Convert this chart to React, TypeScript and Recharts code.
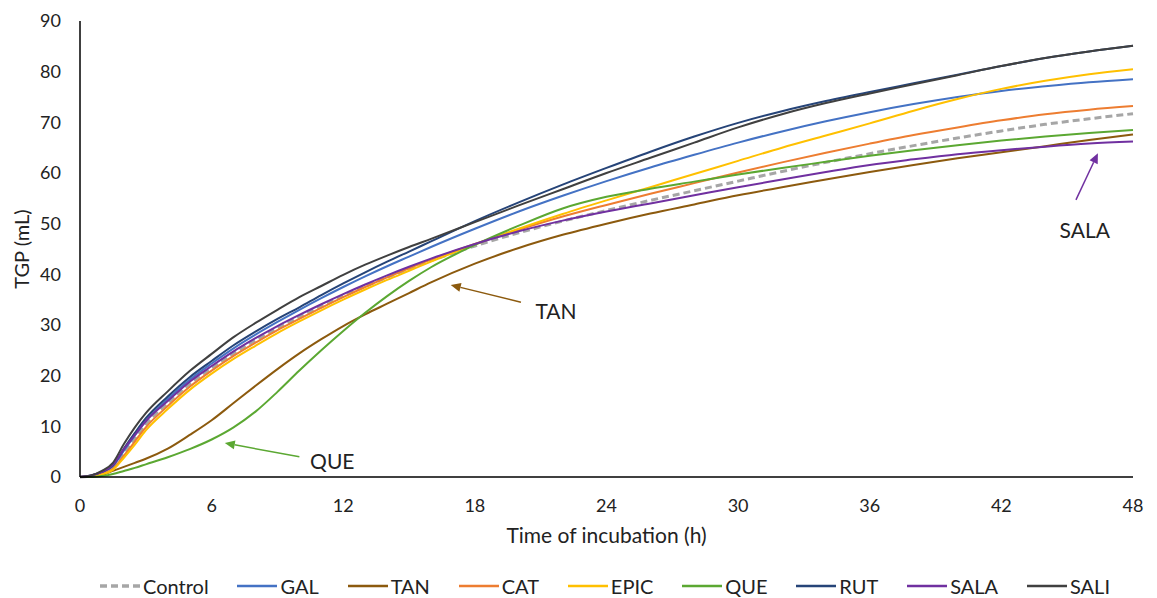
import React from 'react';
import {
  LineChart,
  Line,
  XAxis,
  YAxis,
  Legend,
  ReferenceLine,
  ReferenceDot,
} from 'recharts';

// incubation time (h)
const hours = [0, 0.5, 1, 1.5, 2, 2.5, 3, 4, 5, 6, 7, 8, 9, 10, 11, 12, 13, 14, 15, 16, 18, 20, 22, 24, 26, 28, 30, 32, 34, 36, 38, 40, 42, 44, 46, 48];

// total gas production (mL)
const control = [0, 0.2, 0.8, 2, 4.8, 7.6, 10.4, 14.6, 18.4, 21.5, 24.4, 27, 29.4, 31.6, 33.7, 35.7, 37.6, 39.4, 41.1, 42.7, 45.6, 48.2, 50.5, 52.6, 54.6, 56.5, 58.4, 60.3, 62.1, 63.8, 65.4, 66.9, 68.3, 69.6, 70.7, 71.7];
const gal = [0, 0.2, 0.9, 2.1, 5.2, 8.2, 11.1, 15.4, 19.2, 22.4, 25.4, 28.1, 30.6, 33, 35.3, 37.5, 39.6, 41.6, 43.5, 45.4, 49, 52.4, 55.5, 58.4, 61.1, 63.6, 66, 68.2, 70.2, 72, 73.6, 75, 76.2, 77.1, 77.9, 78.5];
const tan = [0, 0.1, 0.4, 1.2, 2, 2.8, 3.6, 5.6, 8.3, 11.2, 14.6, 18, 21.3, 24.4, 27.2, 29.8, 32.1, 34.2, 36.3, 38.4, 42.1, 45.2, 47.8, 50, 52, 53.8, 55.6, 57.2, 58.7, 60.2, 61.6, 62.9, 64.1, 65.3, 66.5, 67.6];
const cat = [0, 0.1, 0.6, 1.6, 4.2, 7, 9.8, 14, 17.8, 21, 23.9, 26.5, 29, 31.2, 33.4, 35.5, 37.5, 39.4, 41.2, 42.9, 46, 48.8, 51.4, 53.7, 55.9, 58, 60.1, 62.1, 64, 65.8, 67.5, 69, 70.4, 71.6, 72.5, 73.2];
const epic = [0, 0.1, 0.5, 1.4, 3.8, 6.4, 9.2, 13.4, 17.2, 20.4, 23.3, 25.9, 28.4, 30.7, 32.9, 35, 37, 38.9, 40.7, 42.5, 45.9, 49, 51.9, 54.6, 57.2, 59.8, 62.4, 65, 67.4, 69.8, 72.3, 74.6, 76.6, 78.2, 79.5, 80.5];
const que = [0, 0, 0.2, 0.6, 1.2, 1.8, 2.5, 3.9, 5.5, 7.4, 9.8, 12.9, 16.8, 21, 25, 28.8, 32.4, 35.7, 38.7, 41.4, 45.8, 49.6, 53, 55.3, 56.9, 58.3, 59.7, 61, 62.2, 63.4, 64.5, 65.5, 66.4, 67.2, 67.9, 68.5];
const rut = [0, 0.3, 1, 2.3, 5.6, 8.7, 11.6, 15.9, 19.7, 22.9, 26, 28.7, 31.2, 33.5, 35.9, 38.2, 40.4, 42.5, 44.5, 46.5, 50.5, 54.2, 57.7, 61, 64.2, 67.2, 69.9, 72.2, 74.2, 76, 77.7, 79.4, 81.1, 82.7, 84, 85.1];
const sala = [0, 0.3, 1, 2.4, 5.5, 8.3, 11, 15, 18.8, 21.9, 24.8, 27.4, 29.8, 32, 34.1, 36.1, 38, 39.8, 41.5, 43.1, 46, 48.5, 50.6, 52.4, 54, 55.6, 57.2, 58.7, 60.2, 61.6, 62.7, 63.7, 64.5, 65.2, 65.8, 66.2];
const sali = [0, 0.3, 1.2, 2.8, 6.5, 9.8, 12.6, 16.9, 20.9, 24.3, 27.6, 30.4, 33, 35.5, 37.7, 39.9, 41.9, 43.7, 45.4, 47, 50.3, 53.6, 56.8, 60, 63, 66, 69, 71.6, 73.8, 75.7, 77.5, 79.3, 81.1, 82.7, 84, 85.1];

const xTicks = [0, 6, 12, 18, 24, 30, 36, 42, 48];
const yTicks = [0, 10, 20, 30, 40, 50, 60, 70, 80, 90];

// callouts: label, label position, arrow start, arrow tip
const calloutNames = ['QUE', 'TAN', 'SALA'];
const calloutText = [[11.5, 3.0], [21.7, 32.6], [45.8, 48.7]];
const calloutFrom = [[10.0, 4.0], [20.1, 34.5], [45.4, 54.7]];
const calloutTo = [[6.6, 6.7], [16.9, 37.9], [46.4, 63.9]];

const series = [
  { key: 'Control', values: control, color: '#a6a6a6', width: 3, dash: '7 4' },
  { key: 'GAL', values: gal, color: '#4472c4', width: 2 },
  { key: 'TAN', values: tan, color: '#8c5a0e', width: 2 },
  { key: 'CAT', values: cat, color: '#ed7d31', width: 2 },
  { key: 'EPIC', values: epic, color: '#ffc000', width: 2 },
  { key: 'QUE', values: que, color: '#5ba832', width: 2 },
  { key: 'RUT', values: rut, color: '#264478', width: 2 },
  { key: 'SALA', values: sala, color: '#7030a0', width: 2 },
  { key: 'SALI', values: sali, color: '#404040', width: 2 },
];

const calloutColor: Record<string, string> = { QUE: '#5ba832', TAN: '#8c5a0e', SALA: '#7030a0' };

const rows = hours.map((h, i) => {
  const row: Record<string, number> = { h };
  series.forEach((s) => {
    row[s.key] = s.values[i];
  });
  return row;
});

const FONT = 'Lato, "Noto Sans", sans-serif';

const arrowShape = (color: string) => (props: any) => {
  const { x1, y1, x2, y2 } = props;
  const a = Math.atan2(y2 - y1, x2 - x1);
  const len = 10;
  const w = 4.5;
  const bx = x2 - len * Math.cos(a);
  const by = y2 - len * Math.sin(a);
  const pts = [
    `${x2},${y2}`,
    `${bx + w * Math.sin(a)},${by - w * Math.cos(a)}`,
    `${bx - w * Math.sin(a)},${by + w * Math.cos(a)}`,
  ].join(' ');
  return (
    <g>
      <line x1={x1} y1={y1} x2={bx} y2={by} stroke={color} strokeWidth={1.5} />
      <polygon points={pts} fill={color} />
    </g>
  );
};

function LegendContent() {
  return (
    <div
      style={{
        display: 'flex',
        justifyContent: 'space-between',
        height: 24,
        lineHeight: '24px',
        fontFamily: FONT,
        fontSize: 20,
        color: '#222',
      }}
    >
      {series.map((s) => (
        <div key={s.key} style={{ display: 'flex', alignItems: 'center' }}>
          <svg width={40} height={10} style={{ marginRight: 3 }}>
            <line
              x1={0}
              y1={5}
              x2={40}
              y2={5}
              stroke={s.color}
              strokeWidth={s.width + 0.5}
              strokeDasharray={s.dash ? '7 4' : undefined}
            />
          </svg>
          <span>{s.key}</span>
        </div>
      ))}
    </div>
  );
}

export default function App() {
  return (
    <div style={{ width: 1157, height: 598, background: '#fff' }}>
      <style>{`body{margin:0}`}</style>
      <LineChart
        width={1157}
        height={598}
        data={rows}
        margin={{ top: 21, right: 24, left: 0, bottom: 0 }}
      >
        <XAxis
          dataKey="h"
          type="number"
          domain={[0, 48]}
          ticks={xTicks}
          tickLine={false}
          tickSize={0}
          tickMargin={22}
          height={97}
          stroke="#000"
          strokeWidth={1.5}
          tick={{ fill: '#222', fontSize: 18, fontFamily: FONT }}
          label={{
            value: 'Time of incubation (h)',
            position: 'insideBottom',
            offset: 31,
            fill: '#222',
            fontSize: 21,
            fontFamily: FONT,
          }}
        />
        <YAxis
          type="number"
          domain={[0, 90]}
          ticks={yTicks}
          tickLine={false}
          tickSize={0}
          tickMargin={19}
          width={80}
          stroke="#000"
          strokeWidth={1.5}
          tick={{ fill: '#222', fontSize: 18, fontFamily: FONT }}
          label={{
            value: 'TGP (mL)',
            angle: -90,
            position: 'insideLeft',
            offset: 22,
            fill: '#222',
            fontSize: 20,
            fontFamily: FONT,
            style: { textAnchor: 'middle' },
          }}
        />
        <Legend
          verticalAlign="bottom"
          content={<LegendContent />}
          wrapperStyle={{ left: 100, width: 1010 }}
        />
        {series.map((s) => (
          <Line
            key={s.key}
            dataKey={s.key}
            type="monotone"
            stroke={s.color}
            strokeWidth={s.width}
            strokeDasharray={s.dash}
            dot={false}
            activeDot={false}
            isAnimationActive={false}
          />
        ))}
        {calloutNames.map((name, i) => (
          <ReferenceLine
            key={`a-${name}`}
            segment={[
              { x: calloutFrom[i][0], y: calloutFrom[i][1] },
              { x: calloutTo[i][0], y: calloutTo[i][1] },
            ]}
            stroke={calloutColor[name]}
            shape={arrowShape(calloutColor[name])}
          />
        ))}
        {calloutNames.map((name, i) => (
          <ReferenceDot
            key={`t-${name}`}
            x={calloutText[i][0]}
            y={calloutText[i][1]}
            r={0}
            fill="none"
            stroke="none"
            label={{ value: name, position: 'center', fill: '#222', fontSize: 21, fontFamily: FONT }}
          />
        ))}
      </LineChart>
    </div>
  );
}
